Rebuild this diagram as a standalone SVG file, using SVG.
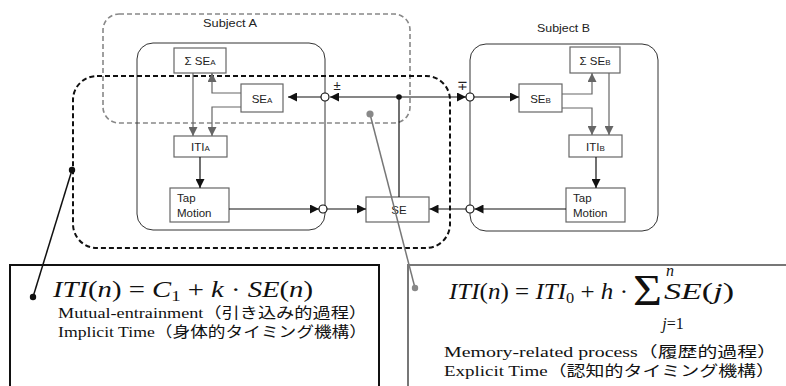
<svg xmlns="http://www.w3.org/2000/svg" width="786" height="386" viewBox="0 0 786 386">
  <defs>
    <style>
      .lbl { font-family: "Liberation Sans", Arial, sans-serif; font-size: 11.5px; fill: #222; }
      .sm { font-size: 8px; }
      .blk { fill: #fff; stroke: #666; stroke-width: 1.2; }
      .subj { fill: none; stroke: #333; stroke-width: 1; }
      .wire { fill: none; stroke: #111; stroke-width: 1.2; }
      .gwire { fill: none; stroke: #666; stroke-width: 1.2; }
      .node { fill: #fff; stroke: #111; stroke-width: 1.2; }
      .eq { font-family: "Liberation Serif", "Times New Roman", serif; fill: #111; }
      .it { font-style: italic; }
      .note { font-family: "Liberation Serif", "Noto Sans CJK JP", serif; font-size: 15px; fill: #111; }
    </style>
    <marker id="ah" viewBox="0 0 10 10" refX="10" refY="5" markerWidth="10" markerHeight="9" markerUnits="userSpaceOnUse" orient="auto">
      <path d="M0,0 L10,5 L0,10 Z" fill="#111"/>
    </marker>
    <marker id="gah" viewBox="0 0 10 10" refX="10" refY="5" markerWidth="9" markerHeight="9" markerUnits="userSpaceOnUse" orient="auto">
      <path d="M0,0 L10,5 L0,10 Z" fill="#666"/>
    </marker>
  </defs>

  <!-- region outlines -->
  <g id="region-subject-a-memory">
    <rect x="103" y="14" width="307" height="109" rx="16" fill="none" stroke="#888" stroke-width="1.6" stroke-dasharray="5 3"/>
    <text class="lbl" x="203" y="27" textLength="54" lengthAdjust="spacingAndGlyphs">Subject A</text>
  </g>
  <g id="subject-a">
    <rect class="subj" x="137" y="43" width="188" height="187" rx="16"/>
  </g>
  <g id="subject-b">
    <rect class="subj" x="470" y="44" width="188" height="187" rx="16"/>
    <text class="lbl" x="537" y="32" textLength="53" lengthAdjust="spacingAndGlyphs">Subject B</text>
  </g>
  <g id="region-entrainment">
    <rect x="73" y="76" width="377" height="172" rx="24" fill="none" stroke="#111" stroke-width="2" stroke-dasharray="5 3"/>
  </g>

  <!-- blocks of subject A -->
  <g id="sum-se-a">
    <rect class="blk" x="174" y="48" width="52" height="25"/>
    <text class="lbl" x="200" y="65" text-anchor="middle">Σ SE<tspan class="sm">A</tspan></text>
  </g>
  <g id="se-a">
    <rect class="blk" x="241" y="84" width="42" height="28"/>
    <text class="lbl" x="262" y="102.5" text-anchor="middle">SE<tspan class="sm">A</tspan></text>
  </g>
  <g id="iti-a">
    <rect class="blk" x="174" y="136" width="53" height="21"/>
    <text class="lbl" x="200.5" y="151" text-anchor="middle">ITI<tspan class="sm">A</tspan></text>
  </g>
  <g id="tap-a">
    <rect class="blk" x="170" y="188" width="59" height="34"/>
    <text class="lbl" x="177" y="202">Tap</text>
    <text class="lbl" x="177" y="217">Motion</text>
  </g>

  <!-- shared block -->
  <g id="se">
    <rect class="blk" x="366" y="197" width="63" height="25"/>
    <text class="lbl" x="399" y="214" text-anchor="middle">SE</text>
  </g>

  <!-- blocks of subject B -->
  <g id="sum-se-b">
    <rect class="blk" x="570" y="47" width="50" height="26"/>
    <text class="lbl" x="595" y="64.5" text-anchor="middle">Σ SE<tspan class="sm">B</tspan></text>
  </g>
  <g id="se-b">
    <rect class="blk" x="519" y="84" width="43" height="28"/>
    <text class="lbl" x="540.5" y="102.5" text-anchor="middle">SE<tspan class="sm">B</tspan></text>
  </g>
  <g id="iti-b">
    <rect class="blk" x="569" y="135" width="53" height="22"/>
    <text class="lbl" x="595.5" y="150.5" text-anchor="middle">ITI<tspan class="sm">B</tspan></text>
  </g>
  <g id="tap-b">
    <rect class="blk" x="566" y="188" width="59" height="34"/>
    <text class="lbl" x="573" y="202">Tap</text>
    <text class="lbl" x="573" y="217">Motion</text>
  </g>

  <!-- connectors -->
  <g id="connectors">
    <!-- subject A internal -->
    <path class="gwire" d="M241,93 H212 V73" marker-end="url(#gah)"/>
    <path class="gwire" d="M241,107 H212 V136" marker-end="url(#gah)"/>
    <path class="gwire" d="M193,73 V136" marker-end="url(#gah)"/>
    <path class="wire" d="M200,157 V188" marker-end="url(#ah)"/>
    <!-- subject B internal -->
    <path class="gwire" d="M562,94 H592 V73" marker-end="url(#gah)"/>
    <path class="gwire" d="M562,108 H592 V135" marker-end="url(#gah)"/>
    <path class="gwire" d="M609,73 V135" marker-end="url(#gah)"/>
    <path class="wire" d="M596,157 V188" marker-end="url(#ah)"/>
    <!-- error feedback -->
    <path class="wire" d="M399,197 V97"/>
    <path class="wire" d="M399,97 H330" marker-end="url(#ah)"/>
    <path class="wire" d="M399,97 H466" marker-end="url(#ah)"/>
    <path class="wire" d="M321,97 H288" marker-end="url(#ah)"/>
    <path class="wire" d="M474,97 H519" marker-end="url(#ah)"/>
    <circle cx="399" cy="97" r="2.8" fill="#111"/>
    <circle class="node" cx="325" cy="97" r="4"/>
    <circle class="node" cx="470" cy="97" r="4"/>
    <text class="lbl" x="337" y="90" text-anchor="middle" style="font-size:13px">±</text>
    <text class="lbl" x="462" y="90" text-anchor="middle" style="font-size:13px">∓</text>
    <!-- tap timing -->
    <path class="wire" d="M229,209 H319" marker-end="url(#ah)"/>
    <path class="wire" d="M327,209 H366" marker-end="url(#ah)"/>
    <path class="wire" d="M566,209 H474.5" marker-end="url(#ah)"/>
    <path class="wire" d="M466,209 H429.5" marker-end="url(#ah)"/>
    <circle class="node" cx="323" cy="209" r="4"/>
    <circle class="node" cx="470" cy="209" r="4"/>
    <!-- callouts to the models -->
    <path d="M72,170 L33,297" fill="none" stroke="#111" stroke-width="1.5"/>
    <circle cx="72" cy="170" r="3.2" fill="#111"/>
    <circle cx="33" cy="297" r="3.2" fill="#111"/>
    <path d="M370,114 L415,288" fill="none" stroke="#777" stroke-width="1.5"/>
    <circle cx="370" cy="114" r="3.6" fill="#888"/>
    <circle cx="415" cy="288" r="3.2" fill="#888"/>
  </g>

  <!-- model boxes -->
  <g id="model-implicit">
    <rect x="10" y="265" width="369" height="140" fill="none" stroke="#111" stroke-width="2"/>
    <text class="eq" x="53" y="297" style="font-size:23px" textLength="260" lengthAdjust="spacingAndGlyphs"><tspan class="it">ITI</tspan>(<tspan class="it">n</tspan>) = <tspan class="it">C</tspan><tspan style="font-size:15px" dy="4">1</tspan><tspan dy="-4"> + </tspan><tspan class="it">k</tspan> · <tspan class="it">SE</tspan>(<tspan class="it">n</tspan>)</text>
    <text class="note" x="58" y="318" textLength="309" lengthAdjust="spacingAndGlyphs">Mutual-entrainment（引き込み的過程）</text>
    <text class="note" x="58" y="337" textLength="309" lengthAdjust="spacingAndGlyphs">Implicit Time（身体的タイミング機構）</text>
  </g>
  <g id="model-explicit">
    <rect x="408" y="265" width="390" height="140" fill="none" stroke="#777" stroke-width="2"/>
    <text class="eq" x="449" y="299" style="font-size:23px" textLength="179" lengthAdjust="spacingAndGlyphs"><tspan class="it">ITI</tspan>(<tspan class="it">n</tspan>) = <tspan class="it">ITI</tspan><tspan style="font-size:15px" dy="4">0</tspan><tspan dy="-4"> + </tspan><tspan class="it">h</tspan> ·</text>
    <text class="eq" x="633" y="305" style="font-size:44px" textLength="29" lengthAdjust="spacingAndGlyphs">Σ</text>
    <text class="eq" x="664" y="299" style="font-size:23px" textLength="70" lengthAdjust="spacingAndGlyphs"><tspan class="it">SE</tspan>(<tspan class="it">j</tspan>)</text>
    <text class="eq it" x="670" y="276" text-anchor="middle" style="font-size:16px">n</text>
    <text class="eq" x="673" y="329" text-anchor="middle" style="font-size:16px"><tspan class="it">j</tspan>=1</text>
    <text class="note" x="444" y="357" textLength="333" lengthAdjust="spacingAndGlyphs">Memory-related process（履歴的過程）</text>
    <text class="note" x="444" y="376" textLength="331" lengthAdjust="spacingAndGlyphs">Explicit Time（認知的タイミング機構）</text>
  </g>
</svg>
